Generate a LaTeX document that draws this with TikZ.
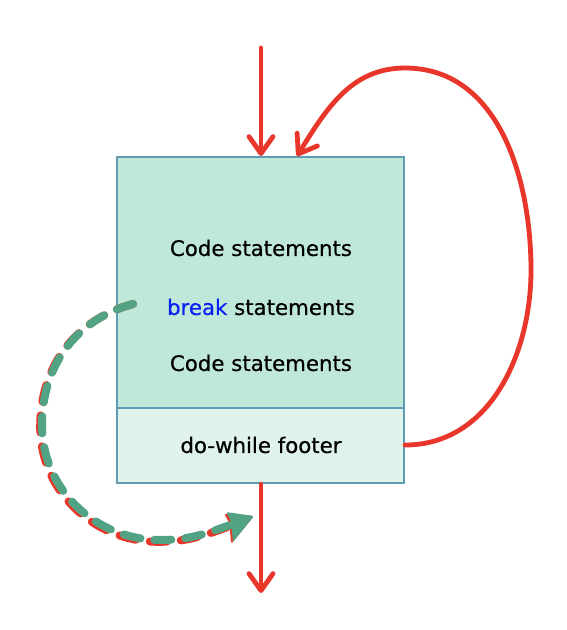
\documentclass[tikz,border=0pt]{standalone}
\usepackage{fontspec}
\setmainfont[FakeBold=0.6,AutoFakeBold=0.6]{DejaVu Sans}
\usetikzlibrary{arrows.meta}
\definecolor{redline}{HTML}{E8372A}
\definecolor{greenline}{HTML}{52A383}
\definecolor{bodyfill}{HTML}{BFE8DA}
\definecolor{footfill}{HTML}{DFF3EA}
\definecolor{boxborder}{HTML}{5F9BB2}
\definecolor{breakblue}{HTML}{0A22F0}
\begin{document}
\begin{tikzpicture}[x=1pt,y=-1pt,
  boxpart/.style={draw=boxborder,line width=2.2pt,minimum width=287pt,inner sep=0pt,anchor=north},
  lbl/.style={font=\fontsize{21.3}{24}\bfseries,inner sep=0pt},
  flow/.style={draw=redline,line width=4.8pt,line cap=round,
    -{Straight Barb[length=17pt,width=24pt,line width=4.8pt,round]}},
  dashbase/.style={line width=8pt,line cap=round,dash pattern=on 17pt off 14pt},
  headshape/.style={rounded corners=1.5pt}]
\useasboundingbox (0,0) rectangle (566,630);
\node[boxpart,fill=bodyfill,minimum height=251pt] (body) at (260.5,156) {};
\node[boxpart,fill=footfill,minimum height=75pt] (foot) at (260.5,407) {};
\node[lbl] (c1) at (261,248) {Code statements};
\node[lbl] (brk) at (261,307) {\textcolor{breakblue}{break} statements};
\node[lbl] (c2) at (261,363) {Code statements};
\node[lbl] (ft) at (261,445) {do-while footer};
\coordinate (in) at (261,48);
\coordinate (out) at (261,593);
\coordinate (loopend) at (297,156);
\coordinate (brkstart) at (133,304);
\coordinate (brkend) at (254,516);
\draw[flow] (in) -- (body.north -| in);
\draw[flow] (foot.south -| out) -- (out);
\draw[flow] (foot.east |- ft) to[out=0,in=-90] (531,270) to[out=90,in=0] (405,68) to[out=180,in=58] (loopend);
\begin{scope}[shift={(-1.8,1.8)}]
\draw[dashbase,draw=redline] (brkstart) to[out=195,in=90] (42,425) to[out=-90,in=180] (160,540) to[out=0,in=200] (230,525);
\fill[redline,headshape] (brkend) -- (226,512) -- (231,521) -- (233,542) -- cycle;
\end{scope}
\draw[dashbase,draw=greenline] (brkstart) to[out=195,in=90] (42,425) to[out=-90,in=180] (160,540) to[out=0,in=200] (230,525);
\fill[greenline,headshape] (brkend) -- (226,512) -- (231,521) -- (233,542) -- cycle;
\end{tikzpicture}
\end{document}
